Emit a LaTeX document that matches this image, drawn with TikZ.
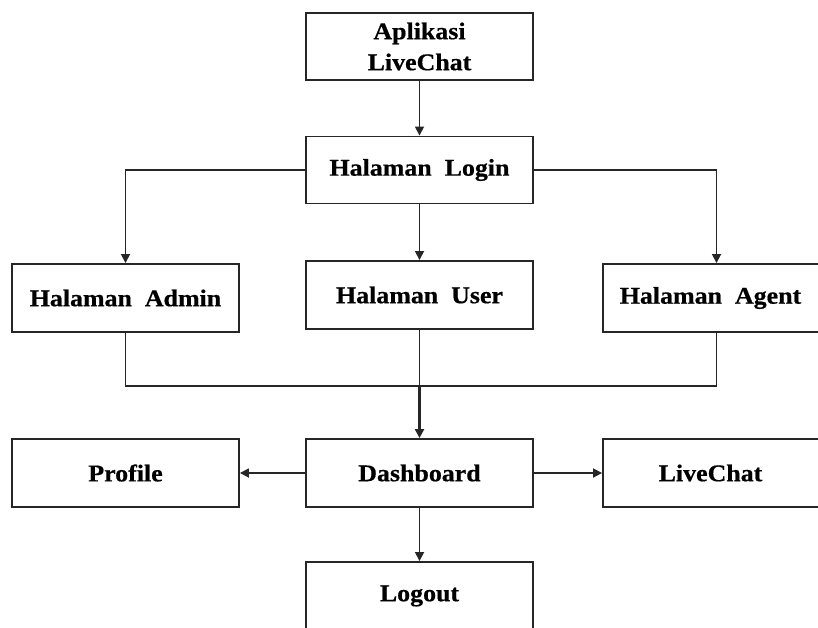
\documentclass[tikz,border=0pt]{standalone}
\usepackage{fontspec}
\setmainfont{Liberation Serif}[FakeStretch=1.08,FakeBold=0.6]
\usetikzlibrary{arrows.meta}
\begin{document}
\begin{tikzpicture}[x=1pt,y=-1pt,
  box/.style={draw=black!85,line width=1.9pt,minimum width=227pt,minimum height=67pt,inner sep=0pt,
    align=center,font=\fontsize{24}{31}\selectfont\bfseries},
  conn/.style={draw=black!85,line width=1.7pt},
  arr/.style={conn,-{Triangle[length=9pt,width=9pt]}}]
\useasboundingbox (0,0) rectangle (818,628);
\clip (0,0) rectangle (818,628);
\node[box] (app) at (419.5,46.5) {Aplikasi\\LiveChat};
\node[box] (login) at (419.5,170) {Halaman\ \ Login};
\node[box,minimum height=68pt] (admin) at (125.5,298) {Halaman\ \ Admin};
\node[box,minimum height=68pt] (user) at (419.5,295) {Halaman\ \ User};
\node[box,minimum height=68pt] (agent) at (716.5,298) {\hspace*{-12pt}Halaman\ \ Agent};
\node[box,minimum height=68pt] (profile) at (125.5,473) {Profile};
\node[box,minimum height=68pt] (dash) at (419.5,473) {Dashboard};
\node[box,minimum height=68pt] (live) at (716.5,473) {\hspace*{-12pt}LiveChat};
\node[box,minimum height=68pt] (logout) at (419.5,596) {Logout};
\coordinate (j) at (419.5,386);
\draw[arr] (app) -- (login);
\draw[arr] (login.west) -| (admin.north);
\draw[arr] (login.east) -| (agent.north);
\draw[arr] (login) -- (user);
\draw[conn] (admin.south) |- (j) -| (agent.south);
\draw[conn] (user.south) -- (j);
\draw[arr,line width=2.4pt] (j) -- (dash.north);
\draw[arr] (dash.west) -- (profile.east);
\draw[arr] (dash.east) -- (live.west);
\draw[arr] (dash.south) -- (logout.north);
\end{tikzpicture}
\end{document}
